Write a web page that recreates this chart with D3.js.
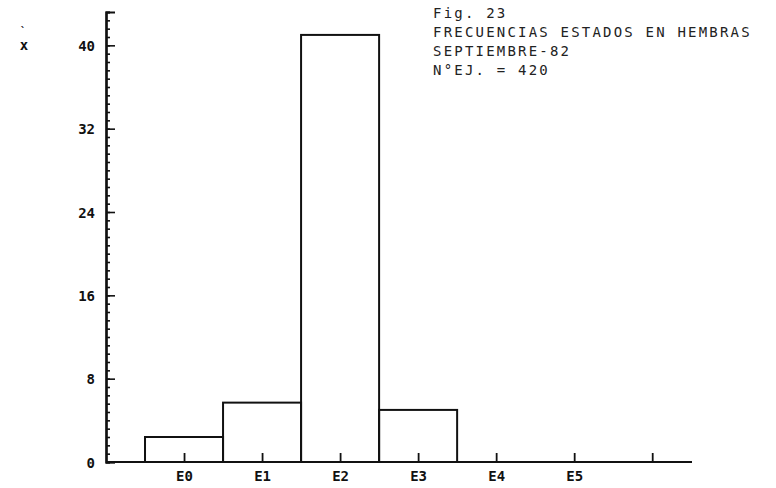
<!DOCTYPE html>
<html><head><meta charset="utf-8">
<script src="https://cdn.jsdelivr.net/npm/d3@7/dist/d3.min.js"></script>
<style>
html,body{margin:0;padding:0;background:#fff;}
svg{display:block;}
.lbl{font-family:"DejaVu Sans Mono",monospace;font-weight:bold;font-size:14px;fill:#111;}
.ttl{font-family:"DejaVu Sans Mono",monospace;font-size:14px;fill:#222;letter-spacing:2.2px;}
</style></head><body>
<svg id="c" width="776" height="488"></svg>
<script>
const categories = ["E0","E1","E2","E3","E4","E5",""];
const values = [2.4, 5.7, 41.0, 5.0, 0, 0];
const yTickLabels = [0, 8, 16, 24, 32, 40];
const yMinorStep = 0.8;
const yMax = 43.2;
const titleLines = ["Fig. 23","FRECUENCIAS ESTADOS EN HEMBRAS","SEPTIEMBRE-82","N°EJ. = 420"];
const yAxisLabel = "x";

const svg = d3.select("#c");
const x = d3.scaleLinear().domain([-1, 6.51]).range([106, 692]);
const y = d3.scaleLinear().domain([0, yMax]).range([462, 12]);
const step = x(1) - x(0);

// bars
svg.append("g").selectAll("rect").data(values.map((v,i)=>({v,i})).filter(d=>d.v>0))
  .join("rect")
  .attr("x", d => x(d.i) - step/2)
  .attr("width", step)
  .attr("y", d => y(d.v))
  .attr("height", d => y(0) - y(d.v))
  .attr("fill", "none").attr("stroke", "#111").attr("stroke-width", 2);

// y axis ticks
const minor = d3.range(0, yMax + 0.01, yMinorStep);
const gyMinor = svg.append("g").attr("transform", `translate(${x(-1)},0)`)
  .call(d3.axisRight(y).tickValues(minor).tickSize(4).tickFormat(""));
const gyMajor = svg.append("g").attr("transform", `translate(${x(-1)},0)`)
  .call(d3.axisRight(y).tickValues(yTickLabels).tickSize(9).tickFormat(""));
const gyLab = svg.append("g").attr("transform", `translate(95,0)`)
  .call(d3.axisLeft(y).tickValues(yTickLabels).tickSize(0).tickPadding(0));
gyLab.select(".domain").remove();
gyLab.selectAll("text").attr("class","lbl").attr("font-family",null).attr("font-size",null).attr("dy","0.36em");
[gyMinor, gyMajor].forEach(g => {
  g.selectAll("line").attr("stroke","#111").attr("stroke-width",1.6);
  g.select(".domain").attr("stroke","#111").attr("stroke-width",2.2);
});

// x axis
const idx = d3.range(categories.length);
const gx = svg.append("g").attr("transform", `translate(0,${y(0)})`)
  .call(d3.axisTop(x).tickValues(idx).tickSize(9).tickSizeOuter(0).tickFormat(""));
gx.select(".domain").attr("stroke","#111").attr("stroke-width",2.2).attr("d", `M${x(-1)},0H${x(6.51)}`);
gx.selectAll("line").attr("stroke","#111").attr("stroke-width",1.8);
const gxLab = svg.append("g").attr("transform", `translate(0,${y(0)})`)
  .call(d3.axisBottom(x).tickValues(idx).tickSize(0).tickPadding(9).tickFormat(i => categories[i]));
gxLab.select(".domain").remove();
gxLab.selectAll("text").attr("class","lbl").attr("font-family",null).attr("font-size",null);

// y label
svg.append("text").attr("class","lbl").attr("x",24).attr("y",50).attr("text-anchor","middle").text(yAxisLabel);
svg.append("text").attr("class","lbl").attr("x",23).attr("y",35).attr("text-anchor","middle").style("font-size","10px").text("`");

// title
svg.append("g").selectAll("text").data(titleLines).join("text")
  .attr("class","ttl").attr("x",433).attr("y",(d,i)=>18 + i*19).text(d=>d);
</script>
</body></html>
